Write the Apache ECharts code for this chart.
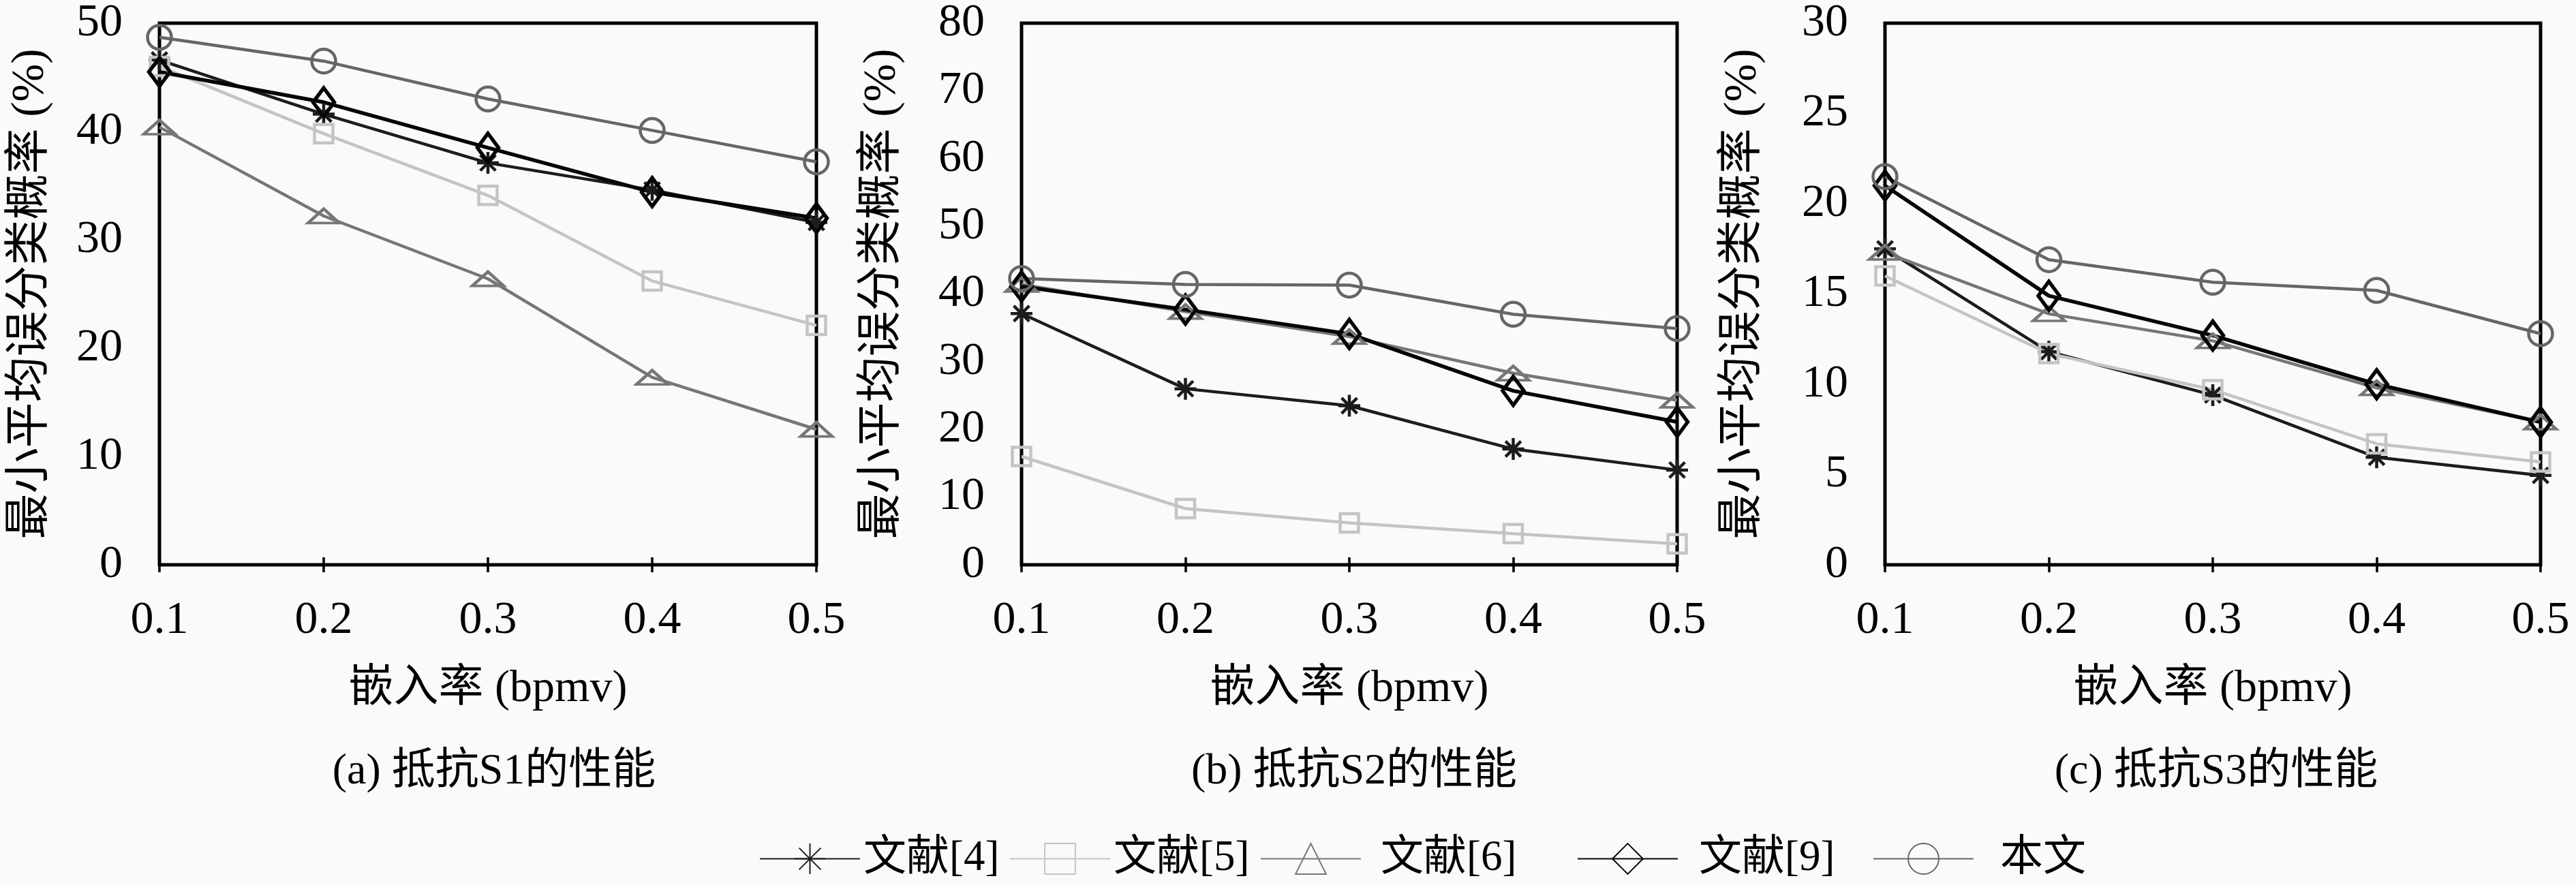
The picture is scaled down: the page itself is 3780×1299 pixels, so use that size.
<!DOCTYPE html>
<html>
<head>
<meta charset="utf-8">
<script src="https://cdn.jsdelivr.net/npm/echarts@6/dist/echarts.min.js"></script>
<style>
html, body { margin: 0; padding: 0; background: #fafafa; }
#chart { width: 3780px; height: 1299px; }
</style>
</head>
<body>
<div id="chart"></div>
<script>
// 横坐标：嵌入率
var rates = ['0.1', '0.2', '0.3', '0.4', '0.5'];
// 图例
var names = ['文献[4]', '文献[5]', '文献[6]', '文献[9]', '本文'];

// (a) 抵抗S1的性能
var s1Ref4 = [46.6, 41.6, 37.1, 34.6, 31.6];
var s1Ref5 = [46.0, 39.8, 34.1, 26.2, 22.1];
var s1Ref6 = [40.4, 32.2, 26.4, 17.3, 12.5];
var s1Ref9 = [45.5, 42.7, 38.5, 34.4, 32.0];
var s1Ours = [48.7, 46.5, 43.0, 40.1, 37.2];

// (b) 抵抗S2的性能
var s2Ref4 = [37.1, 26.0, 23.5, 17.1, 14.0];
var s2Ref5 = [16.0, 8.3, 6.2, 4.6, 3.1];
var s2Ref6 = [41.4, 37.4, 33.7, 28.3, 24.3];
var s2Ref9 = [41.1, 37.7, 34.1, 25.7, 21.1];
var s2Ours = [42.3, 41.4, 41.3, 37.0, 34.9];

// (c) 抵抗S3的性能
var s3Ref4 = [17.5, 11.8, 9.4, 5.95, 4.95];
var s3Ref5 = [16.0, 11.7, 9.7, 6.7, 5.7];
var s3Ref6 = [17.3, 13.9, 12.4, 9.8, 7.9];
var s3Ref9 = [21.0, 14.9, 12.7, 10.0, 7.9];
var s3Ours = [21.5, 16.9, 15.65, 15.2, 12.8];

var yMaxList = [50, 80, 30];
var yStepList = [10, 10, 5];
var subTitles = ['(a) 抵抗S1的性能', '(b) 抵抗S2的性能', '(c) 抵抗S3的性能'];

var fontFam = "'Liberation Serif', 'Noto Sans CJK SC', serif";

// 各子图位置
var gridPos = [
    {left: 234, width: 964, nameGap: 155, center: 720},
    {left: 1499, width: 962, nameGap: 170, center: 1982},
    {left: 2766, width: 962, nameGap: 174, center: 3247}
];

// 标记样式
var asterisk = 'path://M0,-10L0,10M-10,0L10,0M-7.1,-7.1L7.1,7.1M-7.1,7.1L7.1,-7.1';
var triangle = 'path://M0,-10L15,10L-15,10Z';
var diamond = 'path://M0,-11L9.5,0L0,11L-9.5,0Z';
var seriesStyle = {
    '文献[4]': {color: '#1c1c1c', width: 4.5, symbol: asterisk, size: [32, 32]},
    '文献[5]': {color: '#c4c4c4', width: 4.5, symbol: 'rect', size: [27, 27]},
    '文献[6]': {color: '#767676', width: 4.5, symbol: triangle, size: [46, 31]},
    '文献[9]': {color: '#050505', width: 5.5, symbol: diamond, size: [36, 42]},
    '本文': {color: '#666666', width: 4.5, symbol: 'circle', size: [35, 35]}
};

var allData = [
    [s1Ref4, s1Ref5, s1Ref6, s1Ref9, s1Ours],
    [s2Ref4, s2Ref5, s2Ref6, s2Ref9, s2Ours],
    [s3Ref4, s3Ref5, s3Ref6, s3Ref9, s3Ours]
];

var grids = [], xAxes = [], yAxes = [], series = [], titles = [];

for (var g = 0; g < 3; g++) {
    var p = gridPos[g];
    grids.push({
        left: p.left, top: 26, width: p.width, height: 803,
        show: true, borderColor: '#000', borderWidth: 5, backgroundColor: 'transparent'
    });
    // 下横轴
    xAxes.push({
        gridIndex: g, type: 'category', data: rates, boundaryGap: false, position: 'bottom',
        axisLine: {show: false},
        axisTick: {inside: true, length: 11, lineStyle: {color: '#000', width: 3.5}},
        axisLabel: {fontSize: 68, fontFamily: fontFam, color: '#000', margin: 48},
        name: '嵌入率 (bpmv)', nameLocation: 'middle', nameGap: 150,
        nameTextStyle: {fontSize: 66, fontFamily: fontFam, color: '#000'}
    });
    // 上横轴（只画刻度）
    xAxes.push({
        gridIndex: g, type: 'category', data: rates, boundaryGap: false, position: 'top',
        axisLine: {show: false},
        axisTick: {inside: true, length: 11, lineStyle: {color: '#000', width: 3.5}},
        axisLabel: {show: false}
    });
    // 左纵轴
    yAxes.push({
        gridIndex: g, type: 'value', min: 0, max: yMaxList[g], interval: yStepList[g], position: 'left',
        axisLine: {show: false}, splitLine: {show: false},
        axisTick: {inside: true, length: 11, lineStyle: {color: '#000', width: 3.5}},
        axisLabel: {fontSize: 68, fontFamily: fontFam, color: '#000', margin: 54},
        name: '最小平均误分类概率 (%)', nameLocation: 'middle', nameGap: p.nameGap,
        nameTextStyle: {fontSize: 67, fontFamily: fontFam, color: '#000'}
    });
    // 右纵轴（只画刻度）
    yAxes.push({
        gridIndex: g, type: 'value', min: 0, max: yMaxList[g], interval: yStepList[g], position: 'right',
        axisLine: {show: false}, splitLine: {show: false},
        axisTick: {inside: true, length: 11, lineStyle: {color: '#000', width: 3.5}},
        axisLabel: {show: false}
    });
    titles.push({
        text: subTitles[g], left: p.center, top: 1096, textAlign: 'center',
        textStyle: {fontSize: 64, fontWeight: 'normal', fontFamily: fontFam, color: '#000'}
    });
    for (var k = 0; k < names.length; k++) {
        var st = seriesStyle[names[k]];
        series.push({
            name: names[k], type: 'line', xAxisIndex: g * 2, yAxisIndex: g * 2,
            data: allData[g][k],
            symbol: st.symbol, symbolSize: st.size, symbolKeepAspect: true, showAllSymbol: true,
            lineStyle: {color: st.color, width: st.width},
            itemStyle: {color: 'rgba(0,0,0,0)', borderColor: st.color, borderWidth: st.width},
            emphasis: {disabled: true}
        });
    }
}

// 图例：逐项定位
var legendLeft = [1109, 1476, 1844, 2309, 2743];
var legendPad = [0, 0, 24, 26, 34];
var legends = [];
for (var i = 0; i < names.length; i++) {
    legends.push({
        data: [names[i]], left: legendLeft[i], top: 1224,
        itemWidth: 147, itemHeight: 56, selectedMode: false,
        textStyle: {fontSize: 63, fontFamily: fontFam, color: '#000', padding: [0, 0, 0, legendPad[i]]}
    });
}

var chart = echarts.init(document.getElementById('chart'));
chart.setOption({
    backgroundColor: '#fafafa',
    animation: false,
    title: titles,
    legend: legends,
    grid: grids,
    xAxis: xAxes,
    yAxis: yAxes,
    series: series
});
</script>
</body>
</html>
